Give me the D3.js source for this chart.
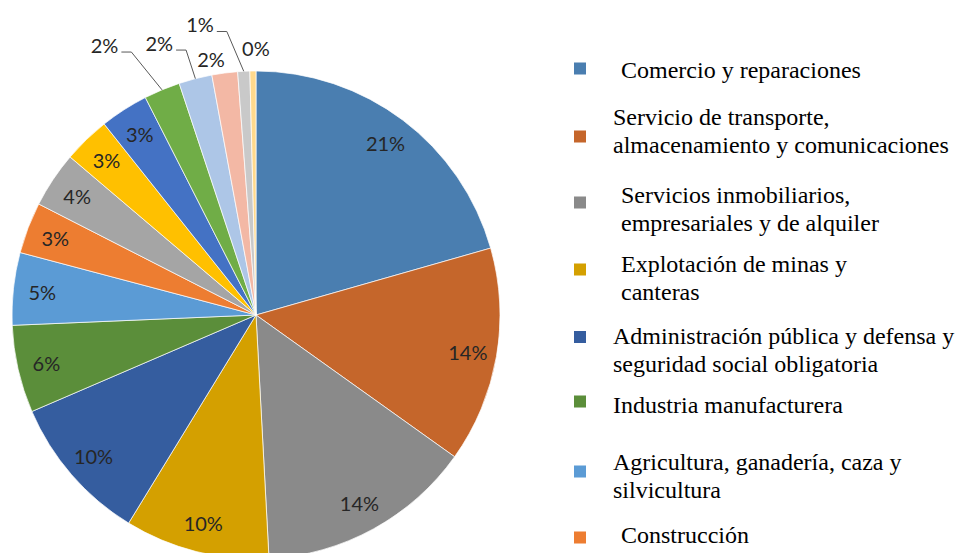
<!DOCTYPE html>
<html>
<head>
<meta charset="utf-8">
<script src="https://cdn.jsdelivr.net/npm/d3@7"></script>
<style>
  body { margin: 0; background: #fff; }
  svg { display: block; }
  .leader { stroke: #595959; stroke-width: 1; fill: none; }
</style>
</head>
<body>
<div id="chart"></div>
<script>
// share of each sector (percent), clockwise from 12 o'clock
var shares = [20.6, 14.3, 14.3, 9.6, 9.8, 5.8, 4.8, 3.4, 3.7, 3.1, 3.2, 2.4, 2.2, 1.7, 0.8, 0.4];

// only the first eight sectors appear in the visible legend
var sectors = [
  ["Comercio y reparaciones"],
  ["Servicio de transporte,", "almacenamiento y comunicaciones"],
  ["Servicios inmobiliarios,", "empresariales y de alquiler"],
  ["Explotación de minas y", "canteras"],
  ["Administración pública y defensa y", "seguridad social obligatoria"],
  ["Industria manufacturera"],
  ["Agricultura, ganadería, caza y", "silvicultura"],
  ["Construcción"]
];

var colors = ["#4a7eb0", "#c5662b", "#8a8a8a", "#d4a000", "#355d9f", "#5b8e3a",
              "#5b9bd5", "#ed7d31", "#a5a5a5", "#ffc000", "#4472c4", "#70ad47",
              "#adc6e7", "#f3b8a5", "#c9c9c9", "#ffd98c"];

var W = 955, H = 553;
var cx = 256, cy = 315, R = 244;
var pctFont = "Lato, 'Open Sans', sans-serif";
var legendFont = "'Liberation Serif', 'DejaVu Serif', serif";

var svg = d3.select("#chart").append("svg")
  .attr("width", W).attr("height", H);

var pie = d3.pie().sort(null).value(function(d) { return d; });
var arcs = pie(shares);

var arc = d3.arc().innerRadius(0).outerRadius(R);
var labelArc = d3.arc().innerRadius(215).outerRadius(215);

var g = svg.append("g").attr("transform", "translate(" + cx + "," + cy + ")");

g.selectAll("path.slice")
  .data(arcs).enter()
  .append("path")
  .attr("class", "slice")
  .attr("d", arc)
  .attr("fill", function(d, i) { return colors[i]; })
  .attr("stroke", "#fff")
  .attr("stroke-width", 0.7);

function pct(d) { return Math.round(d.data) + "%"; }
function midAngle(d) { return (d.startAngle + d.endAngle) / 2; }
function polar(a, r) { return [r * Math.sin(a), -r * Math.cos(a)]; }
function pctText(sel) {
  return sel.attr("font-family", pctFont).attr("font-size", 20).attr("fill", "#262626");
}

// labels inside the bigger slices
var inside = arcs.filter(function(d) { return d.data >= 2.5; });
g.selectAll("text.in")
  .data(inside).enter()
  .append("text")
  .call(pctText)
  .attr("text-anchor", "middle")
  .attr("dominant-baseline", "central")
  .attr("transform", function(d) { return "translate(" + labelArc.centroid(d) + ")"; })
  .text(pct);

// small slices: label outside, some with a leader line (radius, angle shift in deg, leader)
var outLayout = [[291, -2.7, true], [274, -0.4, true], [260, -2.6, false], [285, -3, true], [267, 0.7, false]];
var outside = arcs.filter(function(d) { return d.data < 2.5; });

outside.forEach(function(d, k) {
  var lay = outLayout[k];
  var a = midAngle(d) + lay[1] * Math.PI / 180;
  var p = polar(a, lay[0]);
  if (lay[2]) {
    var edge = polar(midAngle(d), R);
    g.append("polyline")
      .attr("class", "leader")
      .attr("points", [edge, p, [p[0] - 10, p[1]]].map(function(q) { return q.join(","); }).join(" "));
    g.append("text")
      .call(pctText)
      .attr("text-anchor", "end")
      .attr("x", p[0] - 13)
      .attr("y", p[1] + 0.5)
      .text(pct(d));
  } else {
    g.append("text")
      .call(pctText)
      .attr("text-anchor", "middle")
      .attr("dominant-baseline", "central")
      .attr("x", p[0])
      .attr("y", p[1])
      .text(pct(d));
  }
});

// legend (layout of the original word processor: first baselines, marker centres, text indent)
var legendBase = [78, 125, 203, 272, 344, 413, 470, 543];
var legendMark = [68.5, 136.5, 202.5, 269.5, 337, 401.5, 471.5, 537.5];
var legendX = [621, 613, 621, 621, 613, 613, 613, 621];
var lineH = 27.5;

var legend = svg.append("g");
sectors.forEach(function(lines, i) {
  legend.append("rect")
    .attr("x", 574).attr("y", legendMark[i] - 6)
    .attr("width", 12).attr("height", 12)
    .attr("fill", colors[i]);
  var t = legend.append("text")
    .attr("x", legendX[i]).attr("y", legendBase[i])
    .attr("font-family", legendFont)
    .attr("font-size", 24)
    .attr("fill", "#000");
  lines.forEach(function(s, j) {
    t.append("tspan").attr("x", legendX[i]).attr("dy", j === 0 ? 0 : lineH).text(s);
  });
});
</script>
</body>
</html>
